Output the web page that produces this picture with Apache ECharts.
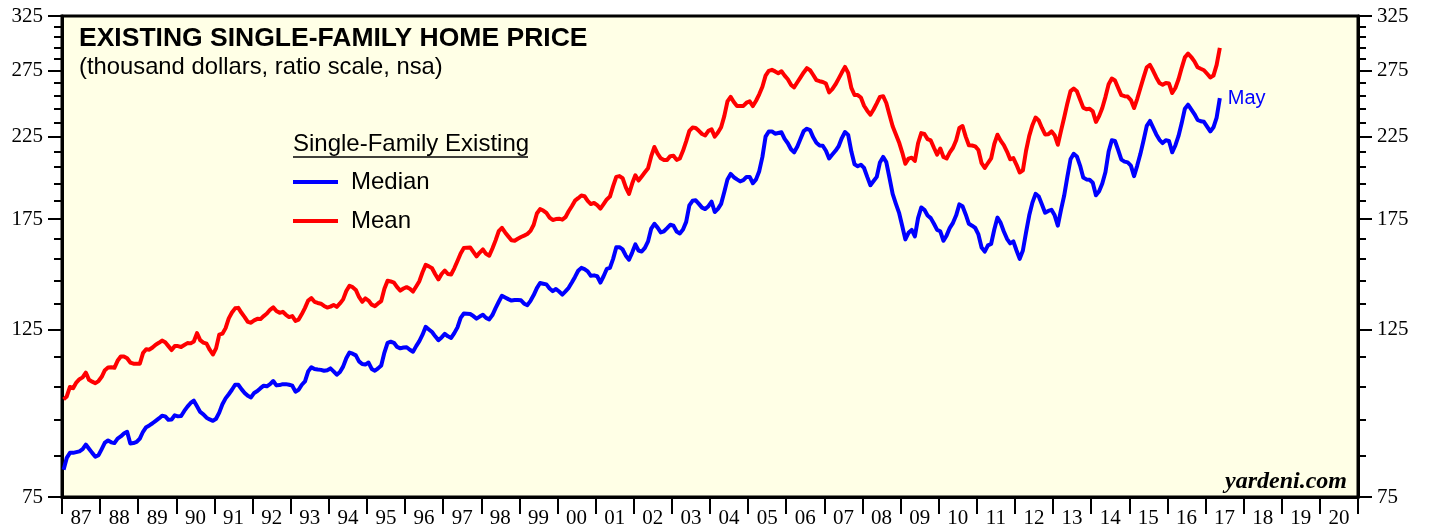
<!DOCTYPE html>
<html>
<head>
<meta charset="utf-8">
<title>Existing Single-Family Home Price</title>
<script src="https://cdn.jsdelivr.net/npm/echarts@6/dist/echarts.min.js"></script>
<style>
  html, body { margin: 0; padding: 0; background: #fff; }
  #chart { width: 1429px; height: 529px; }
</style>
</head>
<body>
<div id="chart"></div>
<script>
// monthly, thousand dollars, Jan 1987 .. May 2017
var medianPrice = [
  81.5, 84.5, 85.8, 85.8, 86.0, 86.2, 86.8, 88.0, 86.9, 85.8, 84.8, 85.2,
  86.8, 88.5, 89.1, 88.6, 88.4, 89.6, 90.2, 91.0, 91.5, 88.3, 88.4, 88.7,
  89.6, 91.5, 92.8, 93.3, 93.9, 94.6, 95.3, 96.1, 95.9, 94.9, 95.0, 96.2,
  95.9, 96.0, 97.5, 98.8, 99.9, 100.6, 98.9, 97.2, 96.5, 95.5, 95.0, 94.6,
  95.2, 97.0, 99.5, 101.3, 102.6, 104.0, 105.6, 105.6, 104.2, 103.0, 102.1, 101.6,
  103.0, 103.6, 104.5, 105.3, 105.1, 105.8, 106.8, 105.4, 105.5, 105.8, 105.8, 105.6,
  105.3, 103.4, 104.0, 105.6, 106.7, 110.0, 111.4, 110.8, 110.6, 110.5, 110.2, 110.4,
  111.0, 110.0, 108.9, 109.8, 111.6, 114.5, 116.5, 116.1, 115.5, 113.4, 112.5, 112.3,
  113.0, 110.8, 110.2, 111.0, 112.0, 116.5, 120.0, 120.4, 120.0, 118.5, 118.0, 118.3,
  118.4, 117.5, 116.8, 118.8, 120.6, 123.0, 126.0, 125.0, 124.0, 122.4, 121.0, 122.0,
  123.3, 122.4, 121.8, 123.6, 125.8, 129.5, 131.2, 131.1, 131.0, 130.2, 129.2, 130.0,
  130.7, 129.5, 128.9, 130.6, 133.4, 136.0, 138.5, 137.8, 137.1, 136.5, 136.7, 136.7,
  136.6, 135.2, 134.6, 136.4, 138.8, 141.8, 144.0, 143.7, 143.4, 141.6, 140.5, 141.4,
  140.3, 139.0, 140.4, 141.9, 144.2, 146.7, 149.5, 150.8, 150.2, 149.2, 147.2, 147.4,
  147.0, 144.2, 147.0, 150.3, 150.8, 155.0, 160.6, 160.6, 159.5, 156.5, 154.6, 158.0,
  162.0, 159.0, 158.5, 160.3, 163.5, 170.0, 172.5, 170.5, 168.0, 168.6, 170.2, 172.0,
  171.5, 168.5, 167.5, 169.5, 173.5, 182.5, 185.0, 185.3, 183.3, 181.2, 180.4, 182.0,
  184.5, 178.8, 180.5, 183.3, 190.0, 197.5, 200.8, 198.8, 197.5, 196.3, 197.0, 199.0,
  199.0, 195.2, 197.5, 202.5, 211.5, 225.0, 228.6, 228.6, 227.0, 227.5, 228.0, 223.5,
  220.5, 216.5, 214.5, 218.3, 223.5, 228.8, 230.5, 229.5, 224.5, 220.8, 219.0, 218.8,
  215.5, 210.5, 213.0, 215.5, 218.5, 224.0, 228.2, 226.2, 215.0, 206.8, 205.6, 206.5,
  204.5, 199.0, 194.0, 196.5, 199.0, 208.0, 211.5, 208.2, 198.5, 189.0, 183.5, 178.5,
  171.5, 164.5, 167.8, 169.3, 166.0, 175.5, 181.3, 180.0, 176.9, 175.5, 172.5, 169.3,
  168.6, 163.8, 166.5, 170.4, 173.0, 177.0, 183.0, 182.0, 177.5, 172.5, 171.5, 170.3,
  167.0, 160.5, 158.5, 161.5, 162.2, 169.5, 175.8, 173.0, 168.5, 164.8, 162.5, 163.5,
  159.0, 155.0, 159.0, 168.0, 177.0, 184.0, 189.0, 187.5, 183.0, 178.4, 179.4, 180.0,
  177.0, 171.5, 180.0, 188.0, 199.0, 210.0, 213.5, 211.8, 206.0, 198.6, 197.5, 197.3,
  195.5, 188.2, 190.5, 195.0, 202.0, 215.0, 222.5, 222.0, 216.0, 209.8, 208.5, 208.0,
  206.0, 199.5, 206.0, 213.5, 222.5, 232.5, 236.0, 231.2, 226.5, 222.8, 220.6, 222.5,
  222.0, 214.5, 219.0, 225.5, 234.5, 245.0, 248.0, 244.5, 241.0, 236.8, 235.8, 235.4,
  232.0, 228.6, 231.5, 238.5, 253.0
]

var meanPrice = [
  101.0, 101.9, 104.9, 104.5, 106.3, 107.4, 108.0, 109.6, 107.2, 106.6, 106.1, 106.8,
  108.2, 110.4, 111.3, 111.4, 111.2, 113.6, 115.1, 115.1, 114.5, 113.0, 112.6, 112.6,
  112.6, 116.3, 117.7, 117.5, 118.3, 119.3, 120.0, 120.8, 120.2, 118.8, 117.4, 118.8,
  118.8, 118.5, 119.2, 119.9, 119.8, 120.5, 123.6, 121.0, 120.1, 119.7, 117.5, 115.8,
  118.0, 123.0, 123.4, 125.5, 129.3, 131.6, 133.3, 133.5, 131.5, 129.8, 127.9, 127.6,
  128.5, 129.1, 129.0, 130.2, 131.2, 132.7, 133.7, 132.2, 131.5, 131.9, 130.7, 129.8,
  130.2, 128.3, 128.8, 131.0, 133.5, 136.5, 137.5, 136.0, 135.5, 135.2, 134.3, 133.6,
  134.0, 134.7, 133.9, 135.3, 137.0, 140.5, 142.8, 142.2, 141.0, 138.0, 136.0, 137.4,
  136.5, 134.8, 134.2, 135.3, 136.3, 141.5, 145.0, 144.7, 144.2, 142.2, 140.7, 141.6,
  142.2, 141.5, 140.3, 142.5, 144.8, 148.8, 152.2, 151.5, 150.6, 147.9, 145.6, 148.0,
  149.6, 148.0, 147.8, 150.6, 154.0, 157.6, 160.2, 160.4, 160.5, 158.3, 156.2, 158.0,
  159.5, 157.4, 156.5, 160.0, 164.0, 168.7, 170.4, 168.0, 166.0, 164.0, 163.8, 164.8,
  165.7, 166.4, 167.2, 168.8, 172.0, 178.0, 180.4, 179.6, 178.3, 175.8, 174.5, 175.0,
  175.2, 174.7, 176.0, 179.2, 182.0, 185.1, 186.5, 188.0, 187.6, 185.0, 183.2, 183.8,
  182.6, 180.7, 183.2, 185.8, 187.4, 193.5, 199.0, 199.5, 198.2, 192.8, 188.9, 195.0,
  200.0, 196.8, 199.3, 201.8, 204.3, 212.0, 218.0, 213.6, 210.6, 209.5, 209.6, 212.0,
  212.2, 209.6, 210.5, 215.5, 221.8, 229.0, 231.3, 231.0, 229.0, 226.8, 225.8, 229.0,
  230.0, 225.0, 227.8, 231.5, 239.5, 250.5, 254.0, 250.0, 247.0, 247.0, 247.1, 249.5,
  250.5, 247.0, 251.0, 256.0, 262.0, 271.0, 275.0, 275.8, 274.5, 273.0, 274.6, 271.0,
  268.0, 263.5, 261.5, 265.6, 269.6, 273.6, 277.2, 275.5, 271.5, 267.3, 266.4, 265.8,
  264.5, 257.5, 260.0, 263.8, 268.5, 273.5, 278.3, 273.3, 261.0, 255.4, 255.4, 253.5,
  247.2, 243.5, 240.6, 244.4, 249.0, 254.0, 254.5, 249.3, 240.5, 232.2, 226.6, 221.2,
  214.5, 207.1, 210.4, 211.0, 208.9, 220.5, 227.4, 226.8, 223.3, 222.4, 217.5, 213.0,
  217.0, 211.5, 210.5, 214.5, 217.5, 222.5, 231.0, 232.4, 225.0, 219.2, 219.0, 218.4,
  216.0, 207.5, 204.5, 207.6, 210.5, 220.0, 226.3, 222.3, 219.3, 215.0, 210.0, 210.7,
  206.5, 201.7, 203.0, 215.5, 225.5, 233.0, 238.5, 236.3, 231.0, 226.5, 226.6, 228.6,
  226.0, 219.5, 229.0, 238.5, 249.0, 258.5, 260.5, 258.4, 252.0, 245.8, 244.6, 245.0,
  243.0, 235.3, 239.5, 245.5, 254.0, 264.0, 268.6, 267.0, 261.0, 255.3, 254.5, 254.2,
  251.5, 245.5, 252.5, 261.0, 269.5, 278.0, 280.0, 275.0, 269.5, 264.9, 263.5, 265.0,
  264.5, 257.0, 261.0, 268.0, 277.5, 286.5, 289.8, 286.8, 283.0, 278.0, 276.7, 275.5,
  272.5, 269.5, 271.0, 280.0, 295.0
]

var firstYear = 1987
var lastYear = 2021
var yTickLabels = [75, 125, 175, 225, 275, 325]
var yMinorTicks = [85, 95, 105, 115, 135, 145, 155, 165, 185, 195, 205, 215,
  235, 245, 255, 265, 285, 295, 305, 315]

// ratio scale: plot natural logs on a linear axis
function toSeries(values) {
  return values.map(function (v, i) {
    return [firstYear + (i + 0.5) / 12, Math.log(v)]
  })
}

var yearTicks = []
var yearLabelPos = []
for (var y = firstYear; y <= lastYear; y++) {
  yearTicks.push(y)
  if (y < lastYear) yearLabelPos.push(y + 0.5)
}

var yMin = Math.log(75)
var yMax = Math.log(325)

function majorAxis(pos) {
  return {
    type: 'value',
    position: pos,
    min: yMin,
    max: yMax,
    axisLine: { show: true, lineStyle: { color: '#000', width: 3 } },
    axisTick: {
      show: true,
      length: 14,
      customValues: yTickLabels.map(Math.log),
      lineStyle: { color: '#000', width: 2 }
    },
    axisLabel: {
      customValues: yTickLabels.map(Math.log),
      formatter: function (v) { return Math.round(Math.exp(v)) },
      fontFamily: 'Liberation Serif',
      fontSize: 21,
      color: '#000',
      margin: 19
    },
    splitLine: { show: false }
  }
}

function minorAxis(pos) {
  return {
    type: 'value',
    position: pos,
    min: yMin,
    max: yMax,
    axisLine: { show: false },
    axisTick: {
      show: true,
      length: 8,
      customValues: yMinorTicks.map(Math.log),
      lineStyle: { color: '#000', width: 2 }
    },
    axisLabel: { show: false },
    splitLine: { show: false }
  }
}

var chart = echarts.init(document.getElementById('chart'))

var option = {
  animation: false,
  backgroundColor: '#fff',
  textStyle: { fontFamily: 'Liberation Sans' },
  title: {
    text: 'EXISTING SINGLE-FAMILY HOME PRICE',
    subtext: '(thousand dollars, ratio scale, nsa)',
    left: 79,
    top: 25,
    padding: 0,
    itemGap: 3,
    textStyle: {
      fontFamily: 'Liberation Sans',
      fontSize: 26.5,
      fontWeight: 'bold',
      color: '#000'
    },
    subtextStyle: {
      fontFamily: 'Liberation Sans',
      fontSize: 23.8,
      color: '#000'
    }
  },
  legend: {
    data: ['Median', 'Mean'],
    orient: 'vertical',
    left: 293,
    top: 170,
    padding: 0,
    icon: 'rect',
    itemWidth: 45,
    itemHeight: 4,
    itemGap: 15,
    textStyle: {
      fontFamily: 'Liberation Sans',
      fontSize: 24,
      color: '#000',
      padding: [0, 0, 0, 8]
    }
  },
  graphic: [
    {
      type: 'text',
      left: 293,
      top: 132,
      style: {
        text: 'Single-Family Existing',
        font: '24px "Liberation Sans"',
        fill: '#000'
      }
    },
    {
      type: 'line',
      shape: { x1: 293, y1: 157, x2: 528, y2: 157 },
      style: { stroke: '#000', lineWidth: 1.5 }
    },
    {
      type: 'text',
      right: 82,
      top: 470,
      style: {
        text: 'yardeni.com',
        font: 'italic bold 24px "Liberation Serif"',
        fill: '#000'
      }
    }
  ],
  grid: {
    show: true,
    left: 62,
    right: 71,
    top: 16,
    bottom: 32,
    backgroundColor: '#ffffe6',
    borderColor: '#000',
    borderWidth: 3
  },
  xAxis: {
    type: 'value',
    min: firstYear,
    max: lastYear,
    axisLine: { show: true, lineStyle: { color: '#000', width: 3 } },
    axisTick: {
      show: true,
      length: 17,
      customValues: yearTicks,
      lineStyle: { color: '#000', width: 2 }
    },
    axisLabel: {
      customValues: yearLabelPos,
      formatter: function (v) {
        var yy = Math.floor(v) % 100
        return (yy < 10 ? '0' : '') + yy
      },
      fontFamily: 'Liberation Serif',
      fontSize: 21,
      color: '#000',
      margin: 11
    },
    splitLine: { show: false }
  },
  yAxis: [majorAxis('left'), majorAxis('right'), minorAxis('left'), minorAxis('right')],
  series: [
    {
      name: 'Median',
      type: 'line',
      yAxisIndex: 0,
      showSymbol: false,
      symbol: 'none',
      color: '#0000ff',
      lineStyle: { color: '#0000ff', width: 4, join: 'round' },
      endLabel: {
        show: true,
        formatter: 'May',
        color: '#0000ff',
        fontFamily: 'Liberation Sans',
        fontSize: 20,
        distance: 8
      },
      data: toSeries(medianPrice)
    },
    {
      name: 'Mean',
      type: 'line',
      yAxisIndex: 0,
      showSymbol: false,
      symbol: 'none',
      color: '#ff0000',
      lineStyle: { color: '#ff0000', width: 4, join: 'round' },
      data: toSeries(meanPrice)
    }
  ]
}

chart.setOption(option)
</script>
</body>
</html>
